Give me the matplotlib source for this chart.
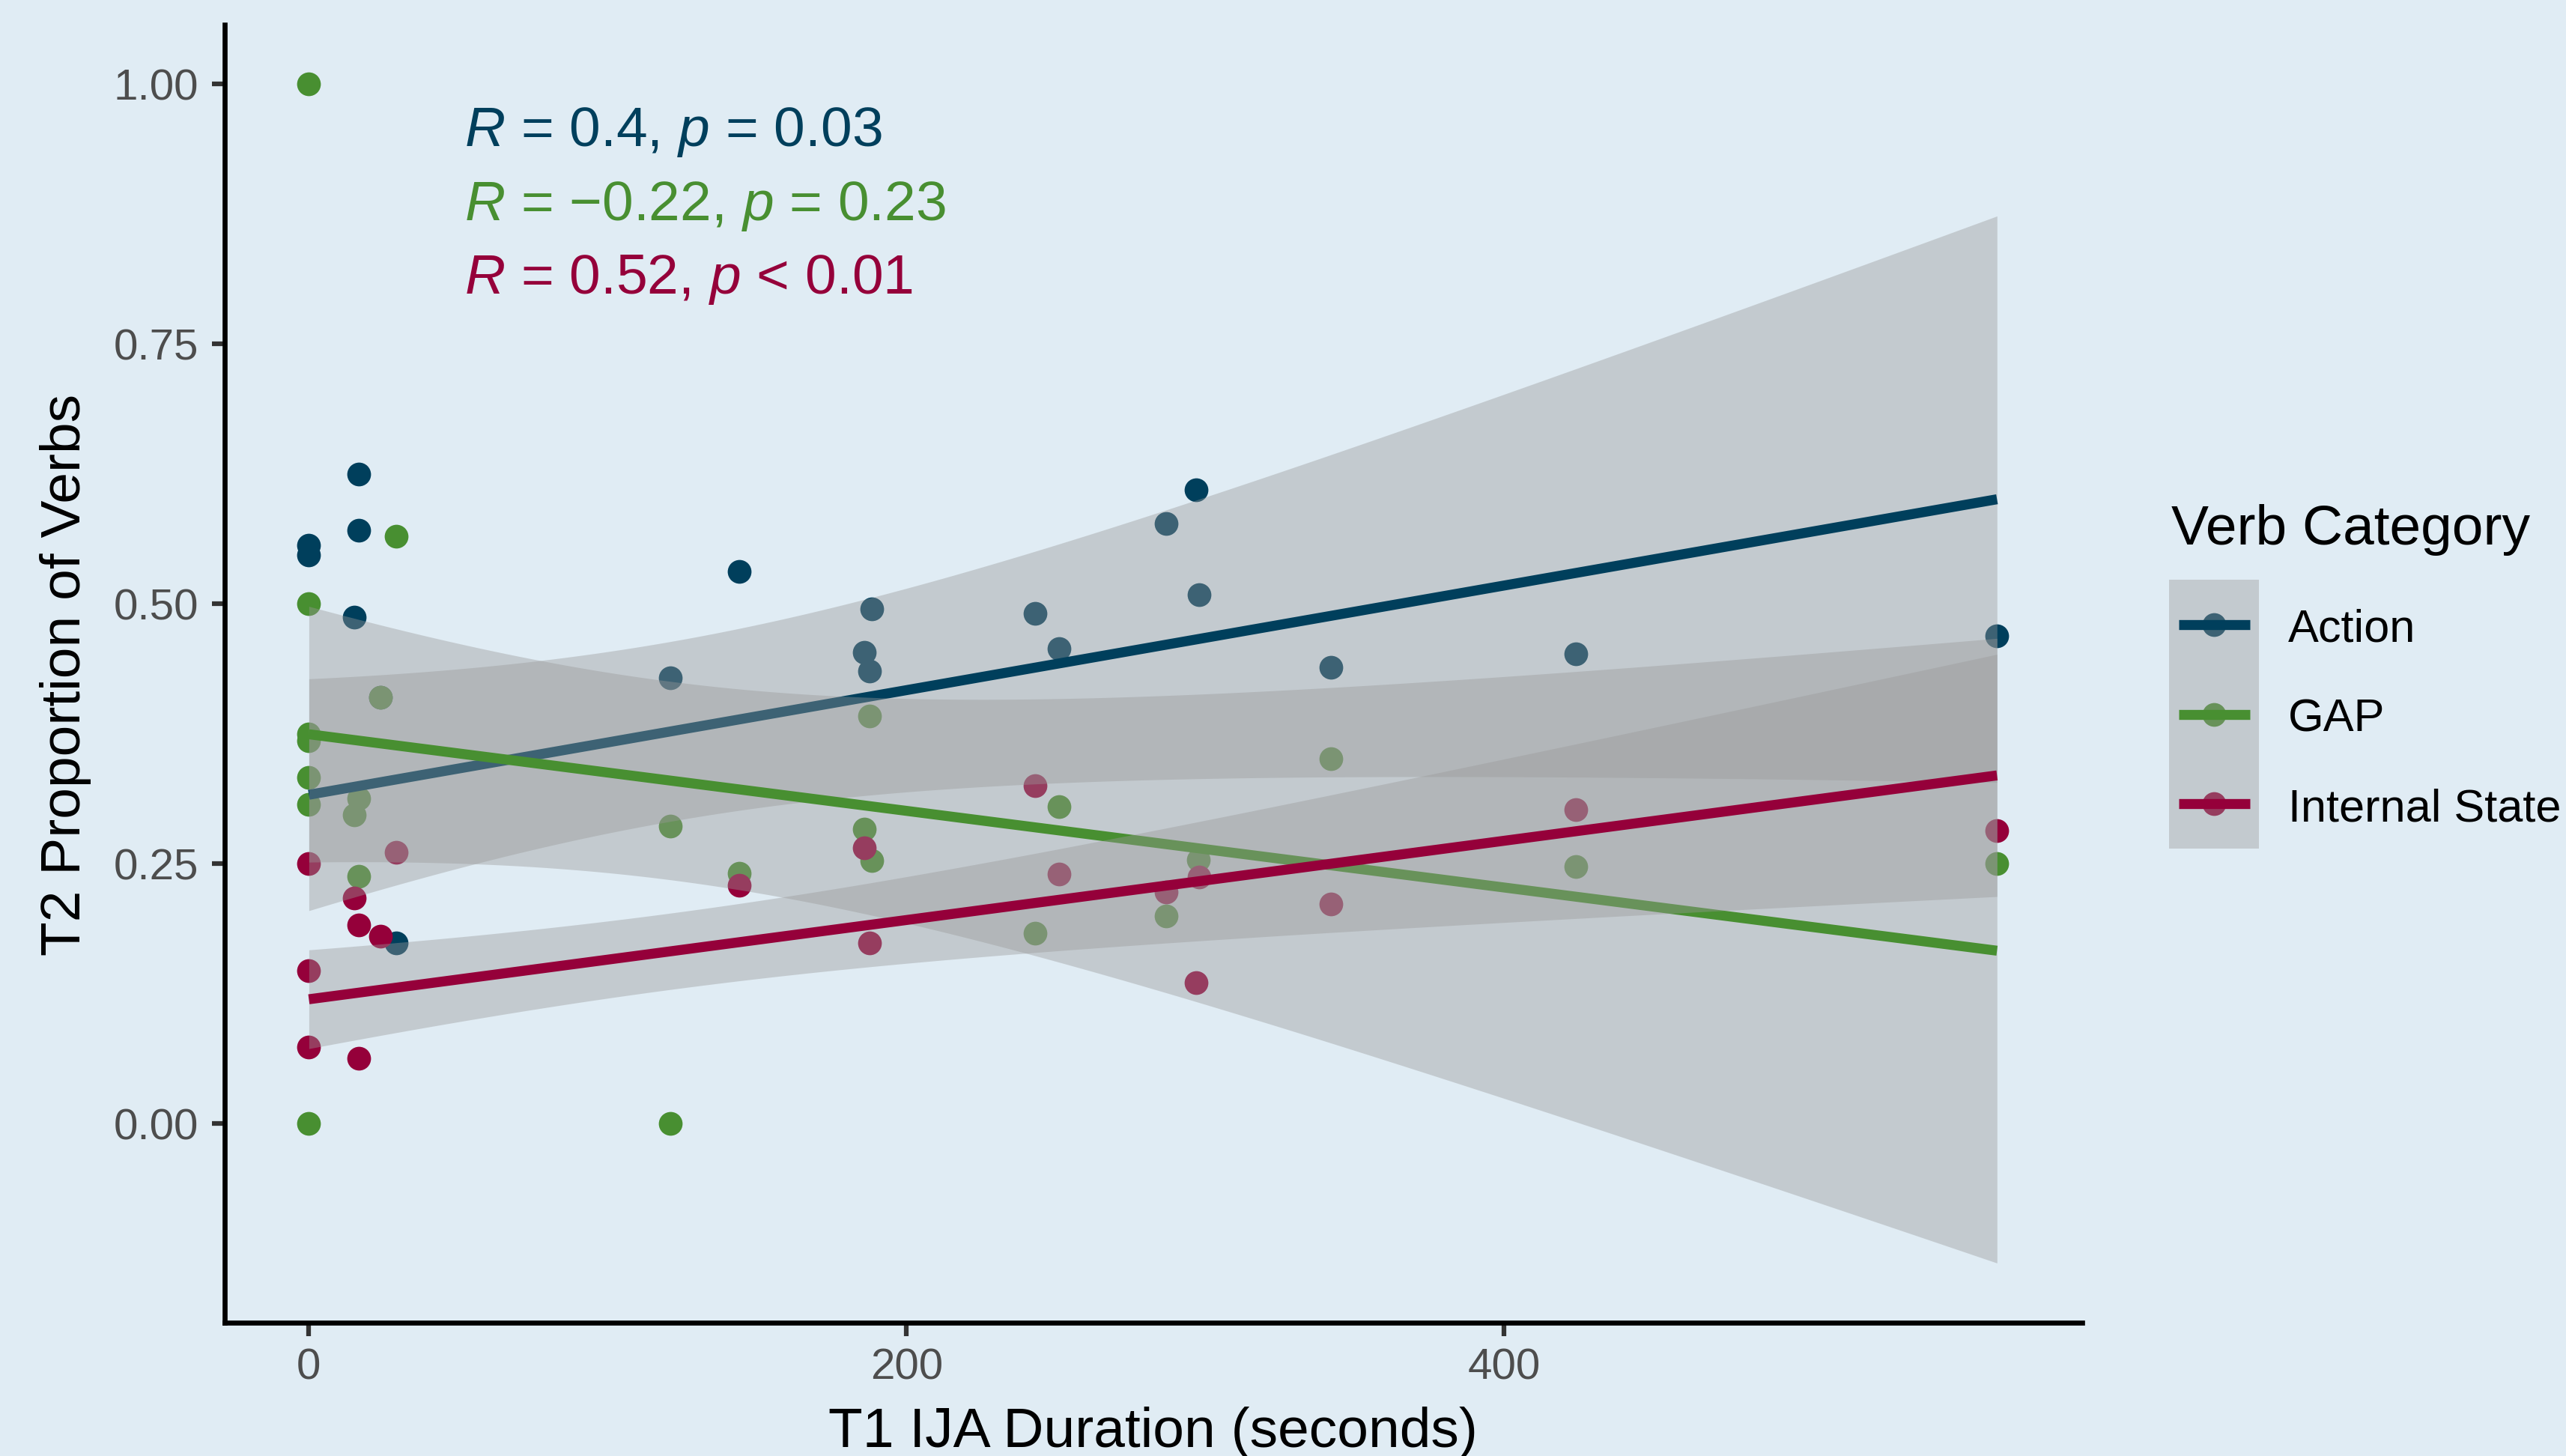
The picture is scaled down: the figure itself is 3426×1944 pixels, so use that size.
import numpy as np
import matplotlib
matplotlib.use("Agg")
import matplotlib.pyplot as plt
from matplotlib.patches import Rectangle

plt.rcParams['font.family'] = ['Liberation Sans', 'DejaVu Sans']
plt.rcParams['mathtext.fontset'] = 'custom'
plt.rcParams['mathtext.rm'] = 'Liberation Sans'
plt.rcParams['mathtext.it'] = 'Liberation Sans:italic'

# --- data ---
categories = ["Action", "GAP", "Internal State"]
colors = ["#003f5c", "#488f31", "#95003a"]

action_x = [0, 0, 15.3, 16.6, 16.6, 24, 29.2, 121, 144, 186, 187.6, 188.4,
            243, 251, 287, 297, 298, 342, 424, 565]
action_y = [0.556, 0.547, 0.487, 0.625, 0.571, 0.41, 0.174, 0.429, 0.531, 0.453, 0.435, 0.495,
            0.491, 0.457, 0.577, 0.610, 0.509, 0.439, 0.452, 0.469]

gap_x = [0, 0, 0, 0, 0, 0, 0, 15.3, 16.6, 16.6, 24, 29.2, 121, 121, 144, 186, 187.6, 188.4,
         243, 251, 287, 297.6, 342, 424, 565]
gap_y = [1.0, 0.5, 0.375, 0.368, 0.333, 0.307, 0.0, 0.297, 0.313, 0.238, 0.41, 0.565, 0.286, 0.0,
         0.241, 0.283, 0.392, 0.253, 0.183, 0.305, 0.200, 0.254, 0.351, 0.247, 0.25]

is_x = [0, 0, 0, 15.3, 16.6, 16.6, 24, 29.2, 144, 186, 187.6, 243, 251, 287, 297, 298,
        342, 424, 565]
is_y = [0.25, 0.147, 0.074, 0.217, 0.191, 0.063, 0.18, 0.261, 0.229, 0.265, 0.174, 0.325,
        0.24, 0.223, 0.136, 0.237, 0.211, 0.302, 0.282]

# fitted lm lines (value at x range ends) and 95% CI half-widths at the ends
fit_x_range = [0, 565]
action_fit = [0.3164, 0.6006]
gap_fit = [0.3746, 0.1664]
is_fit = [0.1197, 0.3350]
action_ci = [0.1115, 0.2724]
gap_ci = [0.1230, 0.3004]
is_ci = [0.0475, 0.1165]
ci_center_x = 121  # mean of x, where the bands are narrowest

stat_labels = [r'$\mathit{R}$ = 0.4, $\mathit{p}$ = 0.03',
               '$\\mathit{R}$ = \u22120.22, $\\mathit{p}$ = 0.23',
               r'$\mathit{R}$ = 0.52, $\mathit{p}$ < 0.01']

x_ticks = [0, 200, 400]
y_ticks = [0.0, 0.25, 0.50, 0.75, 1.00]

series = [
    (action_x, action_y, action_fit, action_ci),
    (gap_x, gap_y, gap_fit, gap_ci),
    (is_x, is_y, is_fit, is_ci),
]


def ci_halfwidth(x, ends, x_ends, xc):
    """Half-width of the lm confidence band: sqrt(a + b*(x - xc)^2)."""
    d0 = (x_ends[0] - xc) ** 2
    d1 = (x_ends[1] - xc) ** 2
    b = (ends[1] ** 2 - ends[0] ** 2) / (d1 - d0)
    a = ends[0] ** 2 - b * d0
    return np.sqrt(a + b * (x - xc) ** 2)


bg = "#e0ecf4"
W, H = 3426, 1944
fig = plt.figure(figsize=(W / 300, H / 300), dpi=300, facecolor=bg)

ax = fig.add_axes([299.5 / W, (H - 1765.5) / H, (2780 - 299.5) / W, (1765.5 - 33) / H])
ax.set_facecolor(bg)

# points first (ribbons are drawn on top of them, as in ggplot)
for (xs, ys, _, _), c in zip(series, colors):
    ax.scatter(xs, ys, s=58, color=c, linewidths=0, zorder=2)

xx = np.linspace(fit_x_range[0], fit_x_range[1], 300)
for (_, _, fit, ci), c in zip(series, colors):
    yfit = fit[0] + (fit[1] - fit[0]) * (xx - fit_x_range[0]) / (fit_x_range[1] - fit_x_range[0])
    hw = ci_halfwidth(xx, ci, fit_x_range, ci_center_x)
    ax.fill_between(xx, yfit - hw, yfit + hw, color="#999999", alpha=0.4, linewidth=0, zorder=3)
    ax.plot(xx, yfit, color=c, lw=3.2, solid_capstyle='butt', zorder=3)

# correlation labels
for i, (lab, c) in enumerate(zip(stat_labels, colors)):
    ax.text(52, 0.940 - 0.0707 * i, lab, color=c, fontsize=18, ha='left', va='baseline')

ax.set_xlim(-28.3, 593.5)
ax.set_ylim(-0.191, 1.057)
ax.set_xticks(x_ticks)
ax.set_yticks(y_ticks)
ax.set_yticklabels([f"{v:.2f}" for v in y_ticks])
ax.tick_params(length=4.2, width=1.5, color="#333333", labelsize=14,
               labelcolor="#4d4d4d", pad=4)
for s in ["top", "right"]:
    ax.spines[s].set_visible(False)
for s in ["left", "bottom"]:
    ax.spines[s].set_linewidth(1.6)
    ax.spines[s].set_color("black")

fig.text(1539 / W, (H - 1932) / H, "T1 IJA Duration (seconds)", fontsize=18,
         ha='center', va='baseline')
fig.text(88 / W, (H - 901) / H, "T2 Proportion of Verbs", fontsize=18,
         rotation=90, ha='center', va='center')

# legend (drawn by hand to get the ggplot key look)
fig.text(2899 / W, (H - 727) / H, "Verb Category", fontsize=18, ha='left', va='baseline')
lax = fig.add_axes([2896 / W, (H - 1133) / H, 120 / W, 359 / H])
lax.set_xlim(0, 1)
lax.set_ylim(0, 3)
lax.axis('off')
for i, (cat, c) in enumerate(zip(categories, colors)):
    row = 2 - i
    lax.scatter([0.5], [row + 0.5], s=58, color=c, linewidths=0, zorder=1, clip_on=False)
    lax.add_patch(Rectangle((0, row), 1, 1, facecolor="#999999", alpha=0.4, lw=0, zorder=2))
    lax.plot([0.107, 0.9], [row + 0.5, row + 0.5], color=c, lw=3.2,
             solid_capstyle='butt', zorder=3)
    lax.text(1.325, row + 0.307, cat, fontsize=14.7, ha='left', va='baseline', clip_on=False)

fig.savefig("out.png", dpi=300, facecolor=bg)
